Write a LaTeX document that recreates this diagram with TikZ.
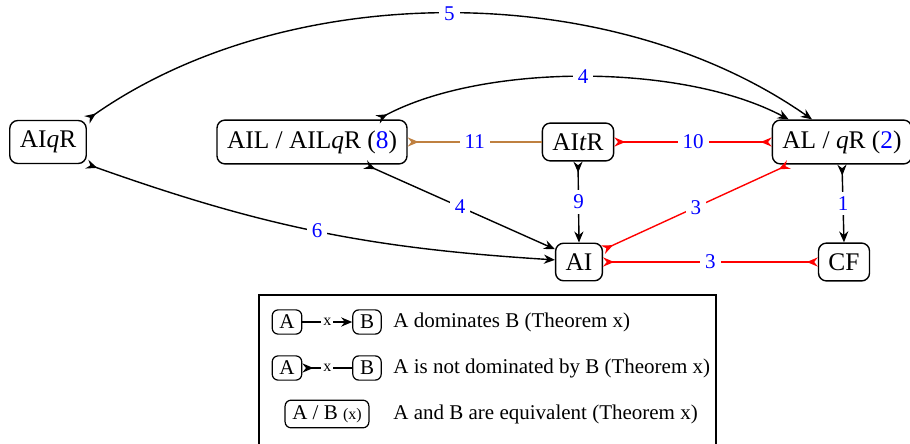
\documentclass[tikz,border=0pt]{standalone}
\usepackage{fontspec}
\setmainfont{Liberation Serif}
\usetikzlibrary{arrows.meta}
\newcommand{\mainfs}{\fontsize{12.7}{15}\selectfont}
\newcommand{\labfs}{\fontsize{10.5}{12.5}\selectfont}
\newcommand{\tinyfs}{\fontsize{8}{9.5}\selectfont}
\begin{document}
\begin{tikzpicture}[x=0.5pt,y=0.5pt,
  >={Stealth[length=5.5pt,width=4.6pt,inset=1.8pt]},
  box/.style={draw, rounded corners=4pt, line width=0.7pt, inner xsep=5pt, inner ysep=5.2pt, font=\mainfs},
  lbox/.style={draw, rounded corners=3pt, line width=0.6pt, inner xsep=3.6pt, inner ysep=2.6pt, font=\labfs},
  lab/.style={fill=white, text=blue, inner sep=2.5pt, font=\labfs},
  lx/.style={fill=white, inner sep=1pt, font=\tinyfs},
  conn/.style={line width=0.7pt},
  dom/.style={conn, ->},
  strictdom/.style={conn, >->},
  incomp/.style={conn, >-<, red},
  notdom/.style={conn, >-},
  legtext/.style={anchor=west, inner sep=0pt, font=\labfs}
]
\useasboundingbox (0,0) rectangle (910,-444);

% main nodes
\node[box] (AIqR) at (48,-142) {AI\textit{q}R};
\node[box] (AIL)  at (312,-142) {AIL / AIL\textit{q}R (\textcolor{blue}{8})};
\node[box] (AItR) at (578,-142) {AI\textit{t}R};
\node[box] (AL)   at (842,-142) {AL / \textit{q}R (\textcolor{blue}{2})};
\node[box] (AI)   at (579,-262) {AI};
\node[box] (CF)   at (844,-262) {CF};

% connectors
\draw[strictdom] (AIqR.north east) to[bend left=35, looseness=0.87] node[lab] {5} (AL.143);
\draw[strictdom] (AIL.19) to[bend left=28, looseness=0.75] node[lab] {4} (AL.157);
\draw[strictdom] (AIqR.south east) to[bend right=8] node[lab] {6} (AI.175);
\draw[strictdom] (AIL.-23) -- node[lab] {4} (AI.152);
\draw[strictdom] (AItR.south) -- node[lab] {9} (AI.north);
\draw[strictdom] (AL.south) -- node[lab] {1} (CF.north);
\draw[notdom, brown] (AIL.east) -- node[lab] {11} (AItR.west);
\draw[incomp] (AItR.east) -- node[lab] {10} (AL.west);
\draw[incomp] (AL.203) -- node[lab] {3} (AI.27);
\draw[incomp] (CF.west) -- node[lab] {3} (AI.east);

% legend frame
\draw[line width=0.6pt] (259,-444) -- (259,-295) -- (716,-295) -- (716,-444);

% legend row 1
\node[lbox] (LA1) at (287,-322) {A};
\node[lbox] (LB1) at (367,-322) {B};
\draw[dom] (LA1.east) -- node[lx] {x} (LB1.west);
\node[legtext] (LT1) at (393,-322) {A dominates B (Theorem x)};

% legend row 2
\node[lbox] (LA2) at (287,-368) {A};
\node[lbox] (LB2) at (367,-368) {B};
\draw[notdom] (LA2.east) -- node[lx] {x} (LB2.west);
\node[legtext] (LT2) at (393,-368) {A is not dominated by B (Theorem x)};

% legend row 3
\node[lbox] (LAB) at (327,-414) {A / B {\tinyfs (x)}};
\node[legtext] (LT3) at (393,-414) {A and B are equivalent (Theorem x)};
\end{tikzpicture}
\end{document}
